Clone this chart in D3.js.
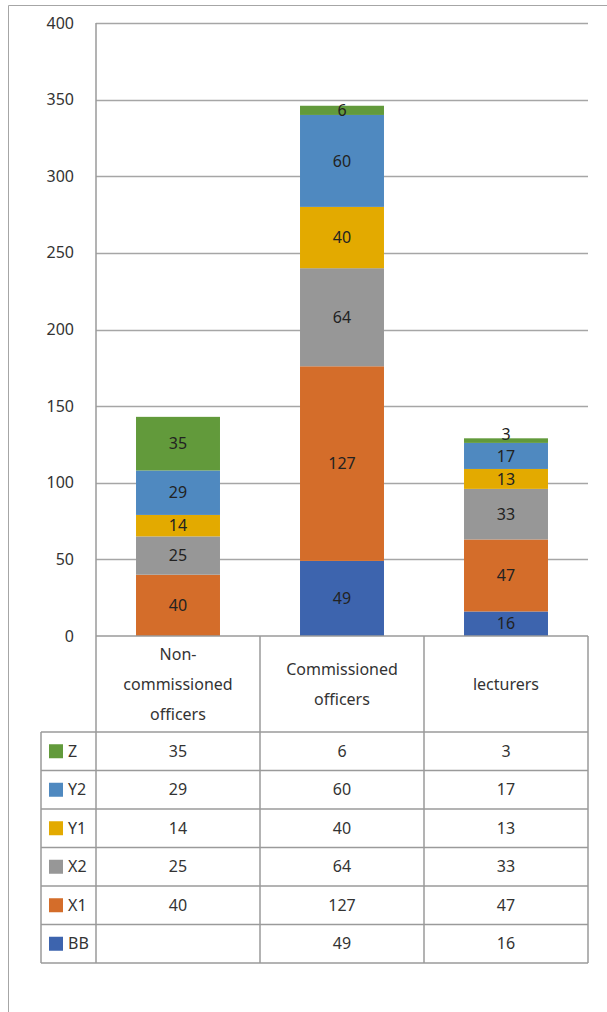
<!DOCTYPE html>
<html>
<head>
<meta charset="utf-8">
<script src="https://cdn.jsdelivr.net/npm/d3@7"></script>
<style>
  html, body { margin: 0; padding: 0; background: #fff; }
  svg text { font-family: "Noto Sans", "Open Sans", sans-serif; fill: #333; }
</style>
</head>
<body>
<svg id="chart" width="607" height="1012"></svg>
<script>
// Personnel groups along the x axis, with their wrapped label lines
const categories = ["Non-commissioned officers", "Commissioned officers", "lecturers"];
const categoryLines = [["Non-", "commissioned", "officers"], ["Commissioned", "officers"], ["lecturers"]];

// Stack series, bottom to top
const seriesKeys = ["BB", "X1", "X2", "Y1", "Y2", "Z"];
const BB = [null, 49, 16];
const X1 = [40, 127, 47];
const X2 = [25, 64, 33];
const Y1 = [14, 40, 13];
const Y2 = [29, 60, 17];
const Z  = [35, 6, 3];
const seriesColors = ["#3d64ae", "#d46d2a", "#979797", "#e3aa00", "#4f89c0", "#629a3b"];

// Value axis ticks
const yTicks = [0, 50, 100, 150, 200, 250, 300, 350, 400];

const seriesValues = { BB, X1, X2, Y1, Y2, Z };
const rows = categories.map((c, i) => {
  const r = { category: c };
  seriesKeys.forEach(k => { r[k] = seriesValues[k][i] == null ? 0 : seriesValues[k][i]; });
  return r;
});

const svg = d3.select("#chart");
const plotLeft = 96, plotRight = 588, plotTop = 23, plotBottom = 636;
const headerBottom = 732;
const tableLeft = 41, rowH = 38.5;
const gridColor = "#a6a6a6", tableColor = "#9a9a9a";

const x = d3.scaleBand().domain(categories).range([plotLeft, plotRight]).padding(0);
const y = d3.scaleLinear().domain([0, 400]).range([plotBottom, plotTop]);
const barW = x.bandwidth() * 0.512;
const color = d3.scaleOrdinal().domain(seriesKeys).range(seriesColors);

// Outer frame (top and left edges)
svg.append("line").attr("x1", 8.5).attr("x2", 607).attr("y1", 5.5).attr("y2", 5.5)
  .attr("stroke", gridColor).attr("stroke-width", 1);
svg.append("line").attr("x1", 8.5).attr("x2", 8.5).attr("y1", 5.5).attr("y2", 1012)
  .attr("stroke", gridColor).attr("stroke-width", 1);

// Horizontal gridlines
svg.append("g").selectAll("line").data(yTicks.filter(t => t > 0)).join("line")
  .attr("x1", plotLeft).attr("x2", plotRight)
  .attr("y1", d => Math.round(y(d)) + 0.5).attr("y2", d => Math.round(y(d)) + 0.5)
  .attr("stroke", gridColor).attr("stroke-width", 1.5);

// Y tick labels
svg.append("g").selectAll("text").data(yTicks).join("text")
  .attr("x", 74).attr("y", d => y(d)).attr("dy", "0.35em")
  .attr("text-anchor", "end").attr("font-size", 16).text(d => d);

// Stacked bars
const stacked = d3.stack().keys(seriesKeys)(rows);
const layer = svg.append("g").selectAll("g").data(stacked).join("g")
  .attr("fill", d => color(d.key));
layer.selectAll("rect").data(d => d.filter(p => p[1] - p[0] > 0)).join("rect")
  .attr("x", d => x(d.data.category) + (x.bandwidth() - barW) / 2)
  .attr("width", barW)
  .attr("y", d => y(d[1]))
  .attr("height", d => y(d[0]) - y(d[1]));

// Segment value labels (very thin segments get their label lifted a little)
const labels = svg.append("g");
stacked.forEach(s => {
  s.forEach(p => {
    const v = p[1] - p[0];
    if (v <= 0) return;
    const segH = y(p[0]) - y(p[1]);
    const lift = segH < 6 ? 6 : 0;
    labels.append("text")
      .attr("x", x(p.data.category) + x.bandwidth() / 2)
      .attr("y", (y(p[0]) + y(p[1])) / 2 - lift)
      .attr("dy", "0.35em").attr("text-anchor", "middle")
      .attr("font-size", 16).style("fill", "#222").text(v);
  });
});

// Axis line along the bottom of the plot and category header cells
const tbl = svg.append("g").attr("stroke", tableColor).attr("stroke-width", 1.5).attr("fill", "none");
tbl.append("line").attr("x1", plotLeft).attr("x2", plotRight).attr("y1", plotBottom).attr("y2", plotBottom);
tbl.append("line").attr("x1", plotLeft).attr("x2", plotLeft).attr("y1", plotTop).attr("y2", headerBottom);
[x(categories[1]), x(categories[2]), plotRight].forEach(xx => {
  tbl.append("line").attr("x1", xx).attr("x2", xx).attr("y1", plotBottom).attr("y2", headerBottom);
});

// Category labels
categories.forEach((c, i) => {
  const lines = categoryLines[i];
  const lh = 30, cy = (plotBottom + headerBottom) / 2;
  const t = svg.append("text").attr("text-anchor", "middle").attr("font-size", 16);
  lines.forEach((ln, j) => {
    t.append("tspan").attr("x", x(c) + x.bandwidth() / 2)
      .attr("y", cy + (j - (lines.length - 1) / 2) * lh).attr("dy", "0.35em").text(ln);
  });
});

// Data table: one row per series, top to bottom reversed from the stack
const tableKeys = seriesKeys.slice().reverse();
const tableBottom = headerBottom + rowH * tableKeys.length;
tableKeys.forEach((k, r) => {
  const top = headerBottom + r * rowH;
  const mid = top + rowH / 2;
  tbl.append("line").attr("x1", tableLeft).attr("x2", plotRight).attr("y1", top).attr("y2", top);
  svg.append("rect").attr("x", 49).attr("y", mid - 7).attr("width", 14).attr("height", 14).attr("fill", color(k));
  svg.append("text").attr("x", 68).attr("y", mid).attr("dy", "0.35em").attr("font-size", 16).text(k);
  categories.forEach((c, i) => {
    const v = seriesValues[k][i];
    if (v == null) return;
    svg.append("text").attr("x", x(c) + x.bandwidth() / 2).attr("y", mid).attr("dy", "0.35em")
      .attr("text-anchor", "middle").attr("font-size", 16).text(v);
  });
});
tbl.append("line").attr("x1", tableLeft).attr("x2", plotRight).attr("y1", tableBottom).attr("y2", tableBottom);
[tableLeft, plotLeft, x(categories[1]), x(categories[2]), plotRight].forEach(xx => {
  tbl.append("line").attr("x1", xx).attr("x2", xx).attr("y1", headerBottom).attr("y2", tableBottom);
});
</script>
</body>
</html>
